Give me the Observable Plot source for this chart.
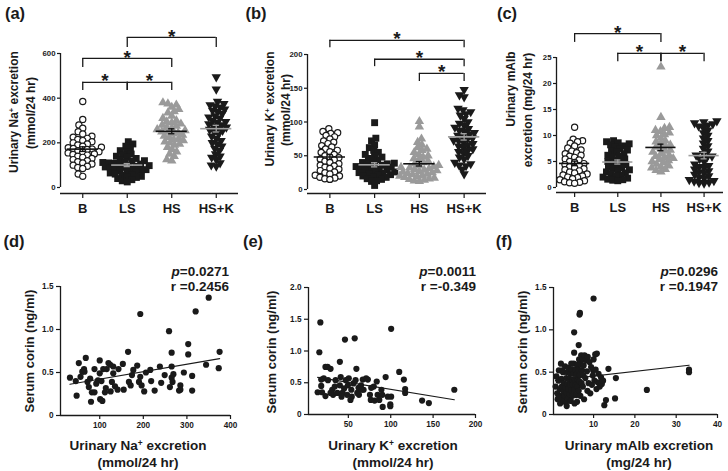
<!DOCTYPE html>
<html><head><meta charset="utf-8">
<script src="https://cdn.jsdelivr.net/npm/d3@7"></script>
<script src="https://cdn.jsdelivr.net/npm/@observablehq/plot@0.6"></script>
<style>
body{margin:0;background:#fff;}
#fig{position:relative;width:728px;height:471px;font-family:"Liberation Sans",Arial,sans-serif;color:#1a1a1a;overflow:hidden;background:#fff}
.t{position:absolute;white-space:nowrap;line-height:1.15;font-weight:bold}
.t sup{font-size:0.62em;vertical-align:0.5em;line-height:0}
</style></head><body><div id="fig"></div>
<script>
// ---------- categories ----------
const groups = ["B", "LS", "HS", "HS+K"];

// ---------- (a) Urinary Na+ excretion (mmol/24 hr) ----------
const naB = [385, 305, 280, 265, 250, 240, 230, 225, 220, 215, 210, 205, 200, 195, 190, 185, 180, 178, 175, 172, 170, 165, 160, 158, 155, 150, 148, 145, 140, 135, 130, 125, 120, 115, 110, 105, 100, 95, 90, 85, 60, 50];
const naLS = [205, 195, 185, 175, 165, 160, 150, 145, 140, 135, 130, 125, 120, 118, 115, 112, 110, 108, 105, 102, 100, 98, 95, 92, 90, 88, 85, 82, 80, 78, 75, 72, 70, 65, 60, 58, 55, 50, 48, 45, 40, 35, 30, 25];
const naHS = [380, 375, 370, 360, 350, 340, 335, 320, 310, 300, 295, 290, 285, 280, 275, 270, 265, 260, 255, 250, 248, 245, 240, 235, 230, 225, 220, 215, 210, 205, 200, 195, 190, 180, 170, 160, 150, 140, 125, 120];
const naHSK = [495, 440, 385, 375, 370, 365, 360, 350, 345, 340, 330, 320, 315, 310, 300, 295, 290, 285, 280, 275, 270, 265, 260, 255, 250, 240, 230, 220, 210, 200, 195, 185, 175, 165, 150, 140, 135, 125, 110, 100, 95];
const naBrackets = [["B", "LS", 471, 434], ["LS", "HS", 471, 434], ["B", "HS", 578, 537], ["LS", "HS+K", 672, 627]];

// ---------- (b) Urinary K+ excretion (mmol/24 hr) ----------
const kB = [90, 86, 84, 83, 80, 78, 75, 72, 70, 68, 65, 63, 60, 58, 56, 55, 52, 50, 48, 47, 45, 44, 42, 40, 38, 36, 35, 33, 31, 30, 28, 26, 25, 23, 21, 20, 18, 17, 16, 15];
const kLS = [99, 76, 72, 66, 62, 58, 55, 52, 50, 48, 46, 44, 42, 40, 39, 38, 37, 36, 35, 34, 33, 32, 31, 30, 29, 28, 27, 26, 25, 24, 23, 22, 21, 20, 19, 18, 16, 15, 13, 12, 6];
const kHS = [101, 93, 75, 70, 66, 62, 60, 58, 55, 52, 50, 48, 46, 44, 42, 40, 38, 36, 35, 34, 33, 32, 31, 30, 29, 28, 27, 26, 25, 24, 23, 22, 21, 20, 19, 18, 17, 16, 15, 14, 13, 12];
const kHSK = [148, 140, 137, 120, 118, 115, 112, 110, 105, 100, 98, 95, 92, 90, 88, 86, 84, 82, 80, 78, 76, 75, 73, 72, 70, 68, 66, 64, 62, 60, 58, 56, 54, 50, 48, 45, 40, 38, 36, 35, 30, 23];
const kBrackets = [["B", "HS+K", 221, 210], ["LS", "HS+K", 193, 182], ["HS", "HS+K", 172, 160]];

// ---------- (c) Urinary mAlb excretion (mg/24 hr) ----------
const albB = [11.6, 9.3, 9.0, 8.8, 8.5, 8.0, 7.6, 7.2, 7.0, 6.7, 6.5, 6.2, 6.0, 5.8, 5.5, 5.3, 5.0, 4.8, 4.6, 4.4, 4.2, 4.0, 3.8, 3.6, 3.4, 3.2, 3.0, 2.8, 2.6, 2.4, 2.2, 2.0, 1.9, 1.7, 1.5, 1.3, 1.1, 1.0, 0.9, 0.8];
const albLS = [9.0, 8.8, 8.6, 8.4, 8.2, 8.0, 7.8, 7.5, 7.2, 7.0, 6.8, 6.5, 6.2, 6.0, 5.8, 5.5, 5.2, 5.0, 4.8, 4.6, 4.4, 4.2, 4.0, 3.8, 3.6, 3.4, 3.2, 3.0, 2.8, 2.6, 2.4, 2.2, 2.0, 1.8, 1.6, 1.5, 1.4, 1.3];
const albHS = [23.2, 13.5, 11.6, 11.4, 11.0, 10.8, 10.5, 10.2, 10.0, 9.5, 9.0, 8.8, 8.5, 8.2, 8.0, 7.8, 7.5, 7.2, 7.0, 6.8, 6.5, 6.2, 6.0, 5.8, 5.6, 5.4, 5.2, 5.0, 4.8, 4.5, 4.2, 4.0, 3.8, 3.5, 3.3, 3.0];
const albHSK = [12.8, 12.6, 12.4, 12.2, 12.0, 11.8, 11.5, 11.0, 10.5, 10.0, 9.5, 9.0, 8.5, 8.0, 7.5, 7.0, 6.5, 6.2, 6.0, 5.8, 5.5, 5.0, 4.5, 4.2, 4.0, 3.8, 3.5, 3.2, 3.0, 2.8, 2.5, 2.2, 2.0, 1.8, 1.5, 1.3, 1.2, 1.0, 0.9, 0.8];
const albBrackets = [["B", "HS", 29.6, 27.9], ["LS", "HS", 25.8, 24.2], ["HS", "HS+K", 25.8, 24.2]];

// ---------- (d) corin vs Na+ ----------
const dNa = [31.7, 45, 47, 52, 56, 60, 65, 68, 72, 75, 80, 82, 88, 92, 96, 100, 100, 101, 106, 112, 114, 116, 120, 124, 128, 131, 131, 135, 141, 153, 155, 165, 167, 171, 177, 186, 193, 193, 196, 202, 216, 226, 238, 241, 259, 261, 265, 265, 265, 269, 282, 285, 293, 303, 303, 312, 312, 320, 344, 350, 375, 373, 64, 78, 88, 104, 108, 125, 143, 174, 190, 206, 218, 249, 267, 285];
const dCorin = [0.44, 0.40, 0.23, 0.61, 0.45, 0.51, 0.51, 0.67, 0.39, 0.33, 0.16, 0.27, 0.54, 0.37, 0.41, 0.64, 0.49, 0.19, 0.17, 0.27, 0.32, 0.54, 0.61, 0.59, 0.39, 0.57, 0.49, 0.34, 0.30, 0.60, 0.30, 0.74, 0.39, 0.35, 0.53, 0.58, 1.18, 0.45, 0.35, 0.28, 0.53, 0.29, 0.57, 0.38, 0.98, 0.33, 0.44, 0.73, 0.57, 0.48, 0.29, 0.35, 0.50, 0.83, 0.71, 0.46, 0.29, 1.21, 0.59, 1.37, 0.74, 0.55, 0.54, 0.43, 0.27, 0.40, 0.54, 0.28, 0.54, 0.47, 0.39, 0.50, 0.40, 0.47, 0.39, 0.30];

// ---------- (e) corin vs K+ ----------
const eK = [13.8, 17, 15.8, 18, 18, 21, 23, 25.5, 23, 26, 29, 31, 32, 35, 37, 40, 40, 41, 43, 45, 46, 47, 48.5, 49.5, 50.5, 52.5, 53.5, 56, 57.5, 58.5, 59.5, 60.5, 62, 62.5, 65, 67, 68, 71, 73, 75.5, 76.5, 80, 81, 83.5, 84.5, 86.5, 90, 90.5, 94, 96.5, 99.5, 99.5, 100.5, 100.5, 110, 115.5, 117, 117, 137, 145, 175, 19, 29, 34, 42, 54, 66, 77, 89];
const eCorin = [0.35, 1.45, 0.98, 0.55, 0.45, 0.57, 0.75, 0.75, 0.29, 0.54, 0.72, 0.39, 0.31, 0.54, 0.34, 0.83, 0.46, 0.59, 0.34, 0.41, 1.18, 0.54, 0.31, 0.46, 0.57, 0.23, 0.39, 0.49, 1.20, 0.54, 0.72, 0.34, 0.42, 0.31, 0.46, 0.55, 0.39, 0.57, 0.55, 0.31, 0.23, 0.44, 0.22, 0.52, 0.31, 0.23, 0.31, 0.12, 0.59, 0.28, 0.16, 0.13, 1.35, 0.28, 0.67, 0.55, 0.40, 0.34, 0.22, 0.18, 0.39, 0.35, 0.34, 0.44, 0.28, 0.28, 0.39, 0.42, 0.39];

// ---------- (f) corin vs mAlb ----------
const fAlb = [10.0, 6.6, 6.7, 5.3, 6.4, 5.3, 10.4, 10.8, 13.6, 15.4, 15.2, 22.9, 33.1, 33.1, 12.6, 13.0, 0.8, 1.0, 1.2, 1.3, 1.5, 1.6, 1.8, 1.9, 2.0, 2.1, 2.2, 2.3, 2.5, 2.6, 2.7, 2.8, 3.0, 3.1, 3.2, 3.3, 3.4, 3.5, 3.6, 3.7, 3.8, 3.9, 4.0, 4.1, 4.2, 4.3, 4.4, 4.5, 4.6, 4.7, 4.8, 4.9, 5.0, 5.1, 5.2, 5.3, 5.4, 5.5, 5.6, 5.7, 5.8, 5.9, 6.0, 6.1, 6.2, 6.3, 6.4, 6.5, 6.6, 6.7, 6.8, 6.9, 7.0, 7.1, 7.2, 7.3, 7.4, 7.5, 7.6, 7.8, 8.0, 8.2, 8.4, 8.6, 8.8, 9.0, 9.2, 9.4, 9.6, 9.8, 10.0, 10.2, 10.5, 10.7, 11.0, 11.2, 11.5, 11.8, 12.0, 12.3, 7.7, 3.5, 1.5, 2.4, 4.6, 8.5, 9.9, 6.0];
const fCorin = [1.37, 1.18, 1.20, 0.97, 0.82, 0.73, 0.71, 0.72, 0.54, 0.43, 0.19, 0.29, 0.53, 0.50, 0.11, 0.17, 0.33, 0.45, 0.25, 0.18, 0.40, 0.52, 0.30, 0.13, 0.22, 0.60, 0.42, 0.33, 0.17, 0.50, 0.27, 0.37, 0.22, 0.57, 0.32, 0.14, 0.43, 0.25, 0.50, 0.36, 0.19, 0.30, 0.55, 0.42, 0.24, 0.35, 0.48, 0.16, 0.29, 0.53, 0.41, 0.22, 0.35, 0.48, 0.60, 0.29, 0.13, 0.41, 0.53, 0.35, 0.23, 0.47, 0.59, 0.33, 0.41, 0.53, 0.28, 0.65, 0.39, 0.47, 0.22, 0.59, 0.70, 0.37, 0.52, 0.65, 0.33, 0.46, 0.58, 0.70, 0.43, 0.64, 0.51, 0.68, 0.37, 0.62, 0.25, 0.56, 0.35, 0.46, 0.65, 0.40, 0.53, 0.30, 0.38, 0.48, 0.33, 0.44, 0.36, 0.40, 0.18, 0.10, 0.20, 0.52, 0.60, 0.28, 0.52, 0.15];

// ---------- annotation texts ----------
const pValues = ["0.0271", "0.0011", "0.0296"];
const rValues = ["0.2456", "-0.349", "0.1947"];

// ================= drawing =================
const fig = document.getElementById("fig");
const INK = "#1a1a1a";

function addText(html, cx, cy, size, opt = {}) {
  const d = document.createElement("div");
  d.className = "t";
  d.innerHTML = html;
  d.style.left = cx + "px";
  d.style.top = cy + "px";
  d.style.fontSize = size + "px";
  const tx = opt.anchor === "end" ? "-100%" : opt.anchor === "start" ? "0" : "-50%";
  d.style.transform = `translate(${tx},-50%)` + (opt.rotate ? ` rotate(${opt.rotate}deg)` : "");
  fig.appendChild(d);
}
function place(svg, left, top) {
  svg.style.position = "absolute";
  svg.style.left = left + "px";
  svg.style.top = top + "px";
  fig.appendChild(svg);
}

// triangle pointing down (custom symbol)
const triDown = {
  draw(ctx, size) {
    const a = Math.sqrt(4 * size / Math.sqrt(3));
    const h = a * Math.sqrt(3) / 2;
    ctx.moveTo(0, 2 * h / 3);
    ctx.lineTo(-a / 2, -h / 3);
    ctx.lineTo(a / 2, -h / 3);
    ctx.closePath();
  }
};

// simple beeswarm: horizontal pixel offsets so markers don't overlap too much
function swarm(values, k, d) {
  const pts = values.map((v, idx) => ({idx, y: v * k, x: 0})).sort((a, b) => a.y - b.y);
  const placed = [];
  for (const p of pts) {
    const iv = [];
    for (const q of placed) {
      const dy = Math.abs(q.y - p.y);
      if (dy < d) { const w = Math.sqrt(d * d - dy * dy); iv.push([q.x - w, q.x + w]); }
    }
    const cands = [0];
    for (const [a, b] of iv) cands.push(a, b);
    cands.sort((a, b) => Math.abs(a) - Math.abs(b) || a - b);
    for (const c of cands) {
      if (!iv.some(([a, b]) => c > a + 1e-6 && c < b - 1e-6)) { p.x = c; break; }
    }
    placed.push(p);
  }
  const out = new Array(values.length);
  for (const p of pts) out[p.idx] = p.x;
  return out;
}

const groupStyle = [
  {r: 3.1, fill: "white", stroke: INK, strokeWidth: 1.2},
  {r: 3.9, symbol: "square", fill: INK},
  {r: 3.5, symbol: "triangle", fill: "#9a9a9a"},
  {r: 3.5, symbol: triDown, fill: INK}
];
const meanColor = ["#111", "#a0a0a0", "#111", "#a0a0a0"];

function topPanel(cfg) {
  const {left, width, L, R, Z, T, V, FB, xDomain, yTicks, series, brackets} = cfg;
  const height = 230, marginTop = 15;
  const k = (Z - T) / V;
  const yDomain = [-(FB - Z) / k, (Z - marginTop) / k];
  const stepX = (R - L) / (xDomain[1] - xDomain[0]);
  const marks = [];
  const stats = [];
  series.forEach((vals, i) => {
    const offs = swarm(vals, k, 5.1);
    const rows = vals.map((v, j) => ({x: i + offs[j] / stepX, v}));
    marks.push(Plot.dot(rows, {x: "x", y: "v", ...groupStyle[i]}));
    const m = d3.mean(vals), sem = d3.deviation(vals) / Math.sqrt(vals.length);
    stats.push({i, m, lo: m - sem, hi: m + sem, c: meanColor[i]});
  });
  const gi = g => groups.indexOf(g);
  const br = brackets.map(([a, b, y, y2]) => ({a: gi(a), b: gi(b), y, y2}));
  marks.push(
    Plot.ruleY(stats, {x1: d => d.i - 0.35, x2: d => d.i + 0.35, y: "m", stroke: "c", strokeWidth: 1.6}),
    Plot.ruleX(stats, {x: "i", y1: "lo", y2: "hi", stroke: "c", strokeWidth: 1.3}),
    Plot.ruleY(stats, {x1: d => d.i - 0.07, x2: d => d.i + 0.07, y: "lo", stroke: "c", strokeWidth: 1.3}),
    Plot.ruleY(stats, {x1: d => d.i - 0.07, x2: d => d.i + 0.07, y: "hi", stroke: "c", strokeWidth: 1.3}),
    // brackets
    Plot.ruleY(br, {x1: "a", x2: "b", y: "y", stroke: INK, strokeWidth: 1.3}),
    Plot.ruleX(br, {x: "a", y1: "y", y2: "y2", stroke: INK, strokeWidth: 1.3}),
    Plot.ruleX(br, {x: "b", y1: "y", y2: "y2", stroke: INK, strokeWidth: 1.3}),
    Plot.text(br, {x: d => (d.a + d.b) / 2, y: "y", text: () => "*", fontSize: 19, fontWeight: "bold", fill: INK, dy: -1}),
    // axis lines (GraphPad style)
    Plot.ruleX([xDomain[0]], {y1: 0, y2: yTicks[yTicks.length - 1], stroke: INK, strokeWidth: 1.3}),
    Plot.ruleY([yDomain[0]], {x1: xDomain[0], x2: xDomain[1], stroke: INK, strokeWidth: 1.3}),
    Plot.axisY({ticks: yTicks, tickSize: 3, tickPadding: 2, fontSize: 7.8, fontWeight: "bold", strokeWidth: 1.2, label: null}),
    Plot.axisX({ticks: [0, 1, 2, 3], tickFormat: i => groups[i], tickSize: 5, tickPadding: 5, fontSize: 13, fontWeight: "bold", strokeWidth: 1.2, label: null})
  );
  const svg = Plot.plot({
    width, height, marginLeft: L - left, marginRight: left + width - R, marginTop, marginBottom: height - FB,
    x: {type: "linear", domain: xDomain},
    y: {domain: yDomain},
    style: {fontFamily: "'Liberation Sans', Arial, sans-serif", color: INK, background: "transparent", overflow: "visible"},
    marks
  });
  place(svg, left, 0);
}

function scatterPanel(cfg) {
  const {left, width, L, R, Z, T, V, xDomain, xTicks, yTicks, xs, ys} = cfg;
  const height = 241, top = 230;
  const pts = xs.map((x, i) => ({x, y: ys[i]}));
  const svg = Plot.plot({
    width, height, marginLeft: L - left, marginRight: left + width - R, marginTop: T - top, marginBottom: top + height - Z,
    x: {domain: xDomain},
    y: {domain: [0, V]},
    style: {fontFamily: "'Liberation Sans', Arial, sans-serif", color: INK, background: "transparent", overflow: "visible"},
    marks: [
      Plot.dot(pts, {x: "x", y: "y", r: 3.1, fill: INK}),
      Plot.linearRegressionY(pts, {x: "x", y: "y", stroke: INK, strokeWidth: 1.2, ci: 0}),
      Plot.ruleX([xDomain[0]], {y1: 0, y2: V, stroke: INK, strokeWidth: 1.3}),
      Plot.ruleY([0], {x1: xDomain[0], x2: xDomain[1], stroke: INK, strokeWidth: 1.3}),
      Plot.axisY({ticks: yTicks, tickFormat: d => d === 0 ? "0" : d.toFixed(1), tickSize: 4, tickPadding: 3, fontSize: 8.2, fontWeight: "bold", strokeWidth: 1.2, label: null}),
      Plot.axisX({ticks: xTicks, tickSize: 4, tickPadding: 3, fontSize: 8.2, fontWeight: "bold", strokeWidth: 1.2, label: null})
    ]
  });
  place(svg, left, top);
}

topPanel({left: 0, width: 243, L: 60, R: 238, Z: 187, T: 53, V: 600, FB: 193, xDomain: [-0.5, 3.5],
  yTicks: [0, 200, 400, 600], series: [naB, naLS, naHS, naHSK], brackets: naBrackets});
topPanel({left: 243, width: 245, L: 307, R: 486, Z: 189, T: 54, V: 200, FB: 193, xDomain: [-0.5, 3.5],
  yTicks: [0, 50, 100, 150, 200], series: [kB, kLS, kHS, kHSK], brackets: kBrackets});
topPanel({left: 488, width: 240, L: 556, R: 723, Z: 187, T: 57, V: 25, FB: 192, xDomain: [-0.42, 3.45],
  yTicks: [0, 5, 10, 15, 20, 25], series: [albB, albLS, albHS, albHSK], brackets: albBrackets});

scatterPanel({left: 0, width: 243, L: 60, R: 230, Z: 415, T: 286, V: 1.5, xDomain: [10, 400],
  xTicks: [100, 200, 300, 400], yTicks: [0, 0.5, 1, 1.5], xs: dNa, ys: dCorin});
scatterPanel({left: 243, width: 243, L: 308, R: 475, Z: 414, T: 287, V: 2, xDomain: [3, 200],
  xTicks: [50, 100, 150, 200], yTicks: [0, 0.5, 1, 1.5, 2], xs: eK, ys: eCorin});
scatterPanel({left: 486, width: 242, L: 553, R: 717, Z: 414, T: 287, V: 1.5, xDomain: [0.3, 40],
  xTicks: [10, 20, 30, 40], yTicks: [0, 0.5, 1, 1.5], xs: fAlb, ys: fCorin});

// panel letters
addText("(a)", 15, 13, 16.5); addText("(b)", 256, 13, 16.5); addText("(c)", 507, 13, 16.5);
addText("(d)", 14, 241, 16.5); addText("(e)", 253, 241, 16.5); addText("(f)", 504, 241, 16.5);

// top y titles
addText("Urinary Na<sup>+</sup> excretion", 15, 112, 12, {rotate: -90});
addText("(mmol/24 hr)", 32, 113, 12, {rotate: -90});
addText("Urinary K<sup>+</sup> excretion", 271, 109, 12, {rotate: -90});
addText("(mmol/24 hr)", 287, 110, 12, {rotate: -90});
addText("Urinary mAlb", 512, 89, 12, {rotate: -90});
addText("excretion (mg/24 hr)", 529, 110, 12, {rotate: -90});

// bottom y titles
addText("Serum corin (ng/ml)", 30, 351, 13, {rotate: -90});
addText("Serum corin (ng/ml)", 272, 352, 13, {rotate: -90});
addText("Serum corin (ng/ml)", 523, 352, 13, {rotate: -90});

// bottom x titles
addText("Urinary Na<sup>+</sup> excretion", 138, 446, 13.5);
addText("(mmol/24 hr)", 138, 463, 13.5);
addText("Urinary K<sup>+</sup> excretion", 393, 446, 13.5);
addText("(mmol/24 hr)", 393, 463, 13.5);
addText("Urinary mAlb excretion", 639, 446, 13.5);
addText("(mg/24 hr)", 639, 463, 13.5);

// p / r annotations
[229, 476, 718].forEach((rx, i) => {
  addText(`<i>p</i>=${pValues[i]}`, rx, 272, 13.5, {anchor: "end"});
  addText(`r =${rValues[i]}`, rx, 287, 13.5, {anchor: "end"});
});
</script></body></html>
